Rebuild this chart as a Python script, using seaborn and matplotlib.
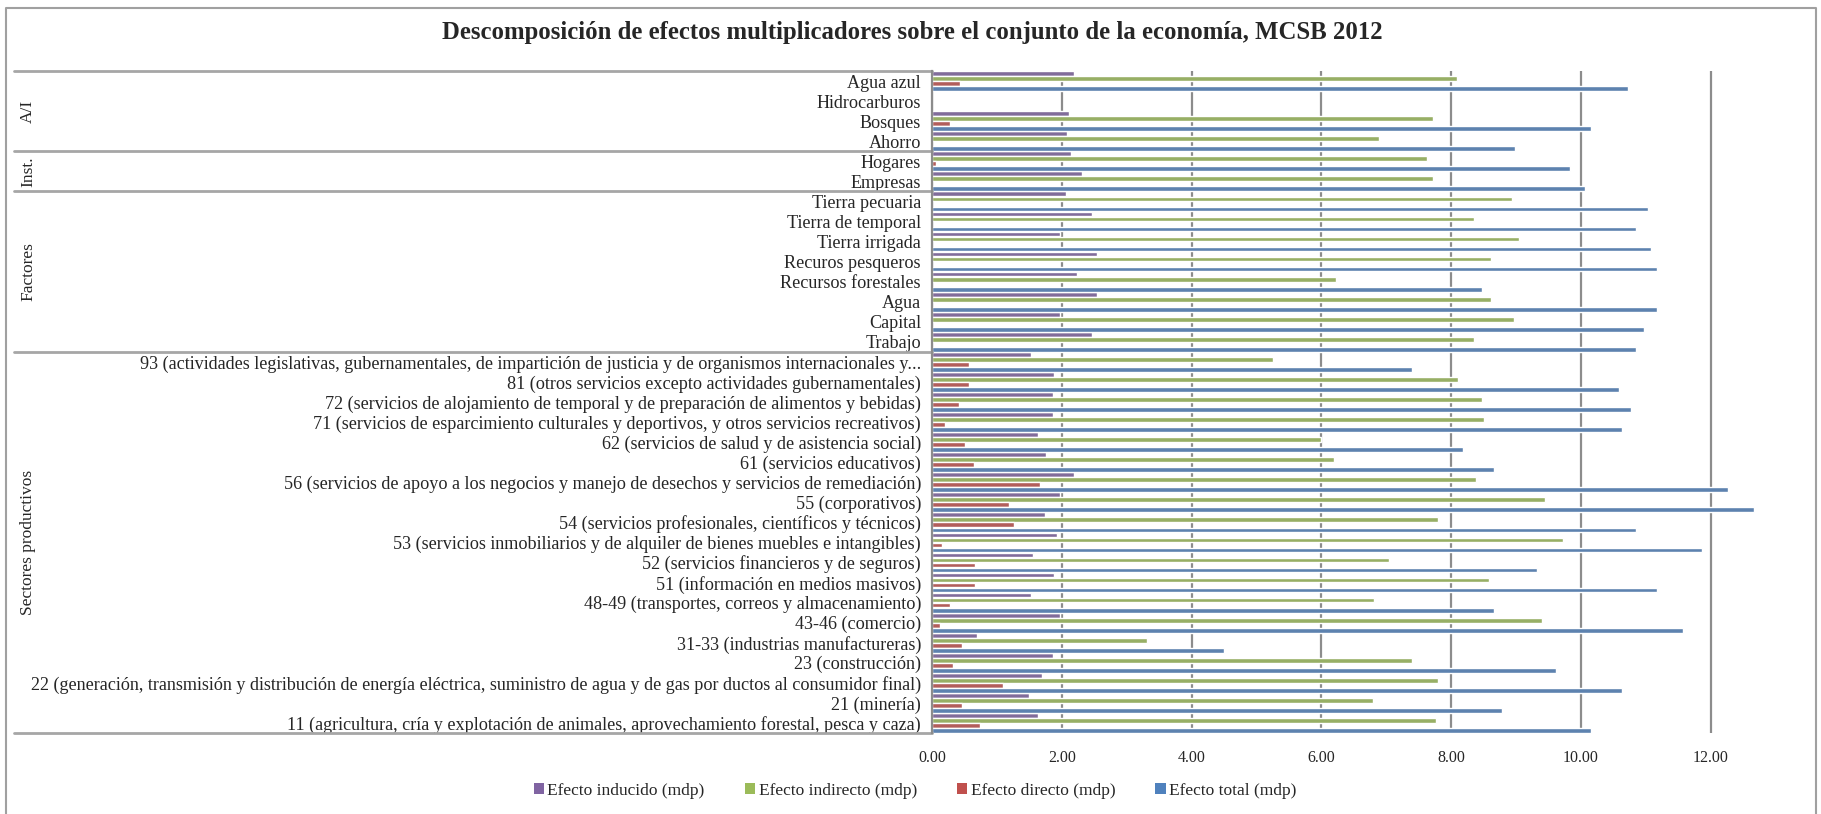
import pandas as pd
import seaborn as sns
import matplotlib.pyplot as plt
from matplotlib.patches import Patch
from matplotlib.lines import Line2D
from matplotlib.transforms import blended_transform_factory

categorias = [
    "Agua azul", "Hidrocarburos", "Bosques", "Ahorro",
    "Hogares", "Empresas",
    "Tierra pecuaria", "Tierra de temporal", "Tierra irrigada", "Recuros pesqueros",
    "Recursos forestales", "Agua", "Capital", "Trabajo",
    "93 (actividades legislativas, gubernamentales, de impartición de justicia y de organismos internacionales y...",
    "81 (otros servicios excepto actividades gubernamentales)",
    "72 (servicios de alojamiento de temporal y de preparación de alimentos y bebidas)",
    "71 (servicios de esparcimiento culturales y deportivos, y otros servicios recreativos)",
    "62 (servicios de salud y de asistencia social)",
    "61 (servicios educativos)",
    "56 (servicios de apoyo a los negocios y manejo de desechos y servicios de remediación)",
    "55 (corporativos)",
    "54 (servicios profesionales, científicos y técnicos)",
    "53 (servicios inmobiliarios y de alquiler de bienes muebles e intangibles)",
    "52 (servicios financieros y de seguros)",
    "51 (información en medios masivos)",
    "48-49 (transportes, correos y almacenamiento)",
    "43-46 (comercio)",
    "31-33 (industrias manufactureras)",
    "23 (construcción)",
    "22 (generación, transmisión y distribución de energía eléctrica, suministro de agua y de gas por ductos al consumidor final)",
    "21 (minería)",
    "11 (agricultura, cría y explotación de animales, aprovechamiento forestal, pesca y caza)",
]

inducido = [2.19, 0, 2.11, 2.08, 2.14, 2.31,
            2.06, 2.47, 1.98, 2.54, 2.24, 2.54, 1.98, 2.47,
            1.53, 1.88, 1.86, 1.86, 1.63, 1.75, 2.19, 1.98, 1.74, 1.93,
            1.55, 1.88, 1.53, 1.98, 0.69, 1.86, 1.70, 1.50, 1.63]
indirecto = [8.09, 0, 7.72, 6.89, 7.63, 7.72,
             8.94, 8.36, 9.05, 8.62, 6.23, 8.62, 8.97, 8.36,
             5.25, 8.11, 8.48, 8.51, 5.99, 6.19, 8.39, 9.45, 7.80, 9.72,
             7.04, 8.58, 6.81, 9.40, 3.31, 7.40, 7.80, 6.79, 7.77]
directo = [0.43, 0, 0.28, 0, 0.06, 0,
           0, 0, 0, 0, 0, 0, 0, 0,
           0.57, 0.57, 0.41, 0.20, 0.51, 0.64, 1.67, 1.19, 1.27, 0.15,
           0.66, 0.66, 0.28, 0.13, 0.46, 0.33, 1.09, 0.46, 0.74]
total = [10.73, 0, 10.16, 8.99, 9.83, 10.06,
         11.03, 10.85, 11.08, 11.18, 8.48, 11.18, 10.97, 10.85,
         7.40, 10.59, 10.77, 10.64, 8.18, 8.66, 12.26, 12.67, 10.85, 11.86,
         9.33, 11.18, 8.66, 11.58, 4.50, 9.61, 10.64, 8.79, 10.16]

grupos = ["A/I", "Inst.", "Factores", "Sectores productivos"]
grupo_n = [4, 2, 8, 19]

series = ["Efecto inducido (mdp)", "Efecto indirecto (mdp)",
          "Efecto directo (mdp)", "Efecto total (mdp)"]
colores = ["#8064A2", "#9BBB59", "#C0504D", "#4F81BD"]
xticks = [0, 2, 4, 6, 8, 10, 12]

df = pd.DataFrame({"Categoria": categorias,
                   series[0]: inducido, series[1]: indirecto,
                   series[2]: directo, series[3]: total})
df_long = df.melt(id_vars="Categoria", var_name="Serie", value_name="Valor")

sns.set_style("white")
plt.rcParams["font.family"] = ["Liberation Serif", "DejaVu Serif"]

W, H = 1821, 814
fig = plt.figure(figsize=(W / 100, H / 100), dpi=100)
x0, x1, ytop, ybot = 932, 1808, 71, 733
ax = fig.add_axes([x0 / W, 1 - ybot / H, (x1 - x0) / W, (ybot - ytop) / H])

sns.barplot(data=df_long, y="Categoria", x="Valor", hue="Serie",
            order=categorias, hue_order=series, palette=colores,
            orient="h", width=1.0, gap=0.05, errorbar=None,
            legend=False, ax=ax)

ax.set_xlim(0, 13.5)
ax.set_ylim(len(categorias) - 0.5, -0.5)
ax.set_xticks(xticks)
ax.set_xticklabels([f"{t:.2f}" for t in xticks], fontsize=11.5)
ax.tick_params(axis="y", length=0, pad=8, labelsize=13.05)
ax.tick_params(axis="x", length=0, pad=12)
ax.set_xlabel("")
ax.set_ylabel("")
ax.xaxis.grid(True, color="#8c8c8c", lw=1.6)
ax.set_axisbelow(True)
for s in ["top", "right", "bottom"]:
    ax.spines[s].set_visible(False)
ax.spines["left"].set_color("#8c8c8c")
ax.spines["left"].set_linewidth(1.6)

# separadores de grupos y etiquetas rotadas
tr = blended_transform_factory(fig.transFigure, ax.transData)
inicio = -0.5
for g, n in zip(grupos, grupo_n):
    ax.plot([14 / W, x0 / W], [inicio, inicio], transform=tr, color="#a6a6a6",
            lw=2, clip_on=False)
    ax.text(28 / W, inicio + n / 2, g, transform=tr, rotation=90,
            ha="center", va="center", fontsize=12.5)
    inicio += n
ax.plot([14 / W, x0 / W], [inicio, inicio], transform=tr, color="#a6a6a6",
        lw=2, clip_on=False)

# marco exterior
fig.add_artist(Line2D([6 / W, 6 / W, 1816 / W, 1816 / W],
                      [0, 1 - 8 / H, 1 - 8 / H, 0],
                      transform=fig.transFigure, color="#a0a0a0", lw=1.5))

fig.text(912 / W, 1 - 32 / H,
         "Descomposición de efectos multiplicadores sobre el conjunto de la economía, MCSB 2012",
         ha="center", va="center", fontsize=17.8, fontweight="bold")

handles = [Patch(facecolor=c, edgecolor="none") for c in colores]
fig.legend(handles, series, loc="center", bbox_to_anchor=(915 / W, 1 - 791 / H),
           ncol=4, frameon=False, fontsize=12.5, handlelength=0.6,
           handleheight=0.6, handletextpad=0.2, columnspacing=2.3)

fig.savefig("out.png", dpi=100)
